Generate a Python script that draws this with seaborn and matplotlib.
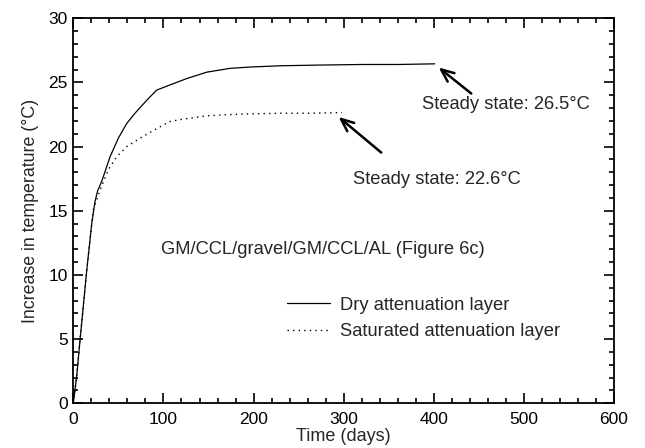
import numpy as np
import pandas as pd
import matplotlib
matplotlib.use("Agg")
import matplotlib.pyplot as plt
from matplotlib.ticker import MultipleLocator
import seaborn as sns

# Data
dry_days = [0, 3.7, 7.4, 14.8, 20.4, 24, 26.7, 31.5, 40.7, 49.9, 59.2, 68.4, 81.3, 92.4,
            107, 125.8, 148, 174, 196, 230, 270, 320, 360, 401]
dry_temp = [0, 2.1, 4.9, 10.3, 14.0, 15.7, 16.5, 17.3, 19.2, 20.65, 21.8, 22.6, 23.6, 24.4,
            24.8, 25.3, 25.8, 26.1, 26.2, 26.3, 26.35, 26.4, 26.4, 26.45]
sat_days = [0, 3.7, 7.4, 14.8, 22.2, 29.6, 38.8, 48, 59.2, 74, 92.4, 107, 118, 148, 174,
            196, 230, 260, 298]
sat_temp = [0, 2.1, 4.9, 10.3, 15.1, 16.6, 18.2, 19.2, 20.0, 20.65, 21.4, 21.95, 22.1, 22.4,
            22.5, 22.55, 22.6, 22.6, 22.65]

series_labels = ["Dry attenuation layer", "Saturated attenuation layer"]
ann_dry = "Steady state: 26.5°C"
ann_sat = "Steady state: 22.6°C"
case_label = "GM/CCL/gravel/GM/CCL/AL (Figure 6c)"

df_dry = pd.DataFrame({"t": dry_days, "T": dry_temp})
df_sat = pd.DataFrame({"t": sat_days, "T": sat_temp})

sns.set_style("ticks")
plt.rcParams["font.family"] = ["Liberation Sans", "DejaVu Sans"]
plt.rcParams["font.size"] = 13

FS = 13.2

fig = plt.figure(figsize=(6.45, 4.48), dpi=100)
ax = fig.add_axes([0.1137, 0.0998, 0.8383, 0.8594])

sns.lineplot(data=df_dry, x="t", y="T", ax=ax, color="black", lw=0.9,
             label=series_labels[0], sort=False)
sns.lineplot(data=df_sat, x="t", y="T", ax=ax, color="black", lw=1.0,
             linestyle=(0, (1, 3)), label=series_labels[1], sort=False)

ax.set_xlim(0, 600)
ax.set_ylim(0, 30)
ax.xaxis.set_major_locator(MultipleLocator(100))
ax.xaxis.set_minor_locator(MultipleLocator(20))
ax.yaxis.set_major_locator(MultipleLocator(5))
ax.yaxis.set_minor_locator(MultipleLocator(1))
ax.tick_params(which="both", direction="in", top=True, right=True,
               colors="black", labelsize=12.5, width=1.2)
ax.tick_params(which="major", length=7)
ax.tick_params(which="minor", length=3.6)
ax.tick_params(axis="x", pad=6)
ax.tick_params(axis="y", pad=4)
for s in ax.spines.values():
    s.set_visible(True)
    s.set_linewidth(1.3)
    s.set_color("black")

ax.set_xlabel("Time (days)", fontsize=13, labelpad=1)
ax.set_ylabel("Increase in temperature (°C)", fontsize=12.8, labelpad=7)

ax.annotate("", xy=(403, 26.3), xytext=(444, 24.0),
            arrowprops=dict(arrowstyle="->,head_length=0.7,head_width=0.3", color="black", lw=1.8))
ax.text(387, 23.25, ann_dry, ha="left", va="center", fontsize=FS)
ax.annotate("", xy=(292, 22.45), xytext=(344, 19.4),
            arrowprops=dict(arrowstyle="->,head_length=0.7,head_width=0.3", color="black", lw=1.8))
ax.text(309.8, 17.4, ann_sat, ha="left", va="center", fontsize=FS)
ax.text(97.4, 12.0, case_label, ha="left", va="center", fontsize=FS)

leg = ax.legend(frameon=False, loc="center left", bbox_to_anchor=(0.3947, 0.2205),
                borderaxespad=0, borderpad=0,
                handlelength=2.35, handletextpad=0.55, labelspacing=0.5, fontsize=FS)

fig.savefig("out.png", dpi=100)
